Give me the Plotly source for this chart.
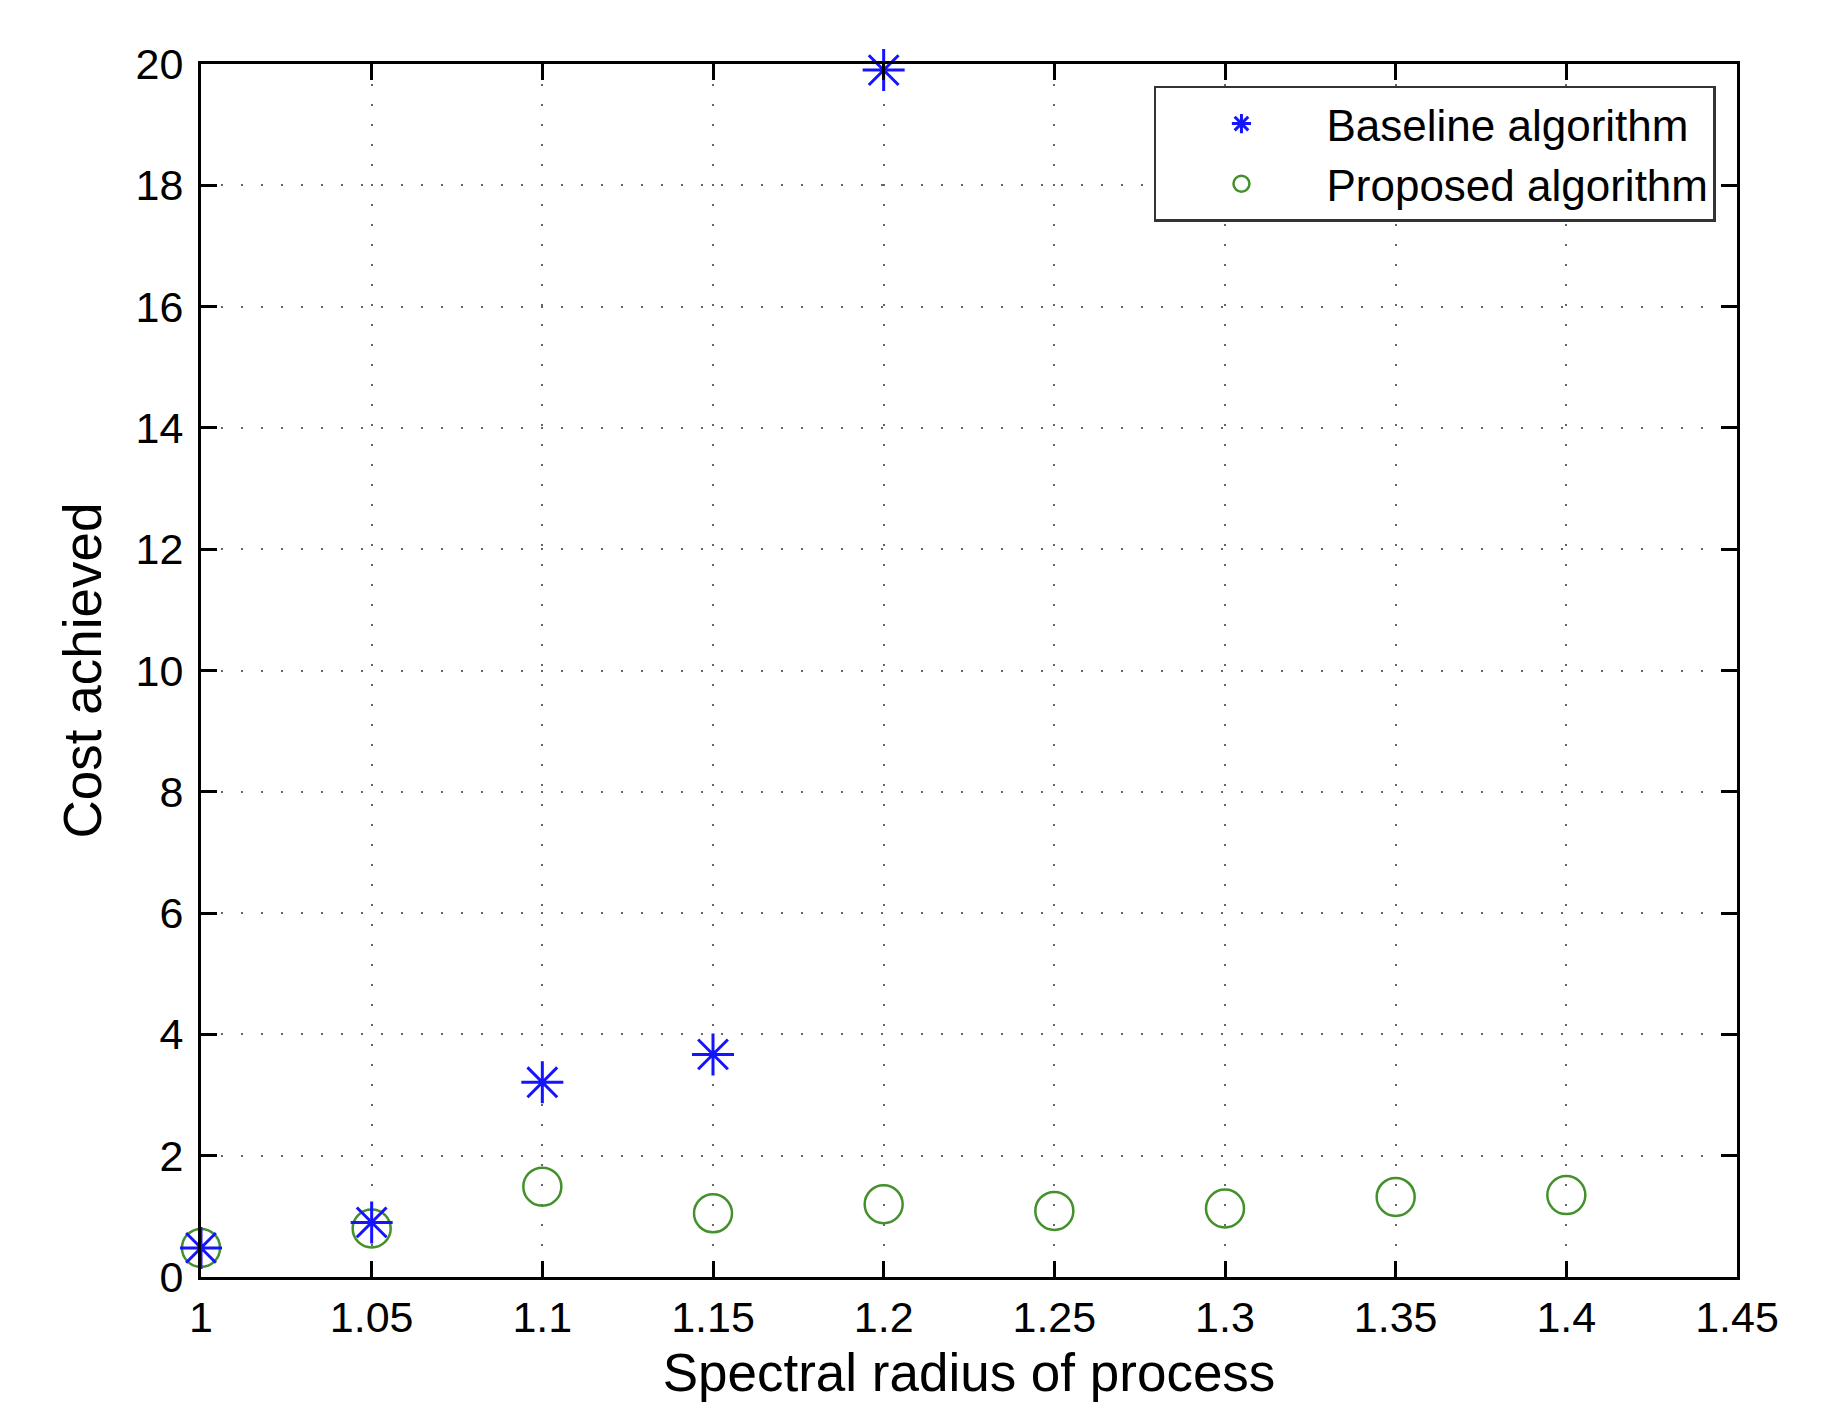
import plotly.graph_objects as go

# Data
x_base = [1.00, 1.05, 1.10, 1.15, 1.20]
y_base = [0.48, 0.90, 3.21, 3.67, 19.9]

x_prop = [1.00, 1.05, 1.10, 1.15, 1.20, 1.25, 1.30, 1.35, 1.40]
y_prop = [0.48, 0.80, 1.49, 1.05, 1.20, 1.09, 1.13, 1.32, 1.35]

x_ticks = [1.0, 1.05, 1.1, 1.15, 1.2, 1.25, 1.3, 1.35, 1.4, 1.45]
x_ticktext = ["1", "1.05", "1.1", "1.15", "1.2", "1.25", "1.3", "1.35", "1.4", "1.45"]
y_ticks = list(range(0, 21, 2))

FONT = "Liberation Sans, Arial, Helvetica, sans-serif"
BLUE = "#1414ff"
GREEN = "#44902c"

fig = go.Figure()
fig.add_trace(go.Scatter(
    x=x_prop, y=y_prop, mode="markers", name="Proposed algorithm",
    cliponaxis=False,
    marker=dict(symbol="circle-open", size=38, color=GREEN,
                line=dict(color=GREEN, width=2.5)),
))
fig.add_trace(go.Scatter(
    x=x_base, y=y_base, mode="markers", name="Baseline algorithm",
    cliponaxis=False,
    marker=dict(symbol="asterisk-open", size=35, color=BLUE,
                line=dict(color=BLUE, width=3)),
))

axis_common = dict(
    showline=True, linecolor="black", linewidth=3, mirror="ticks",
    ticks="inside", ticklen=16, tickwidth=3, tickcolor="black",
    showgrid=True, gridcolor="#666666", gridwidth=2, griddash="2px,18px",
    zeroline=False,
    tickfont=dict(family=FONT, size=43, color="black"),
)

fig.update_layout(
    width=1842, height=1402,
    paper_bgcolor="white", plot_bgcolor="white",
    margin=dict(l=193, r=113, t=56, b=133),
    font=dict(family=FONT, color="black"),
    xaxis=dict(
        range=[1.0, 1.45], tickmode="array", tickvals=x_ticks, ticktext=x_ticktext,
        title=dict(text="Spectral radius of process", font=dict(family=FONT, size=53),
                   standoff=15),
        ticklabelstandoff=0,
        **axis_common,
    ),
    yaxis=dict(
        range=[0, 20], tickmode="array", tickvals=y_ticks,
        title=dict(text="Cost achieved", font=dict(family=FONT, size=53), standoff=18),
        ticklabelstandoff=6,
        **axis_common,
    ),
    legend=dict(
        x=0.9863, y=0.9819, xanchor="right", yanchor="top",
        bgcolor="white", bordercolor="#333333", borderwidth=2.5,
        font=dict(family=FONT, size=44, color="black"),
        itemwidth=160, traceorder="reversed", itemsizing="trace",
    ),
    showlegend=True,
)

fig.write_html("out.html")
